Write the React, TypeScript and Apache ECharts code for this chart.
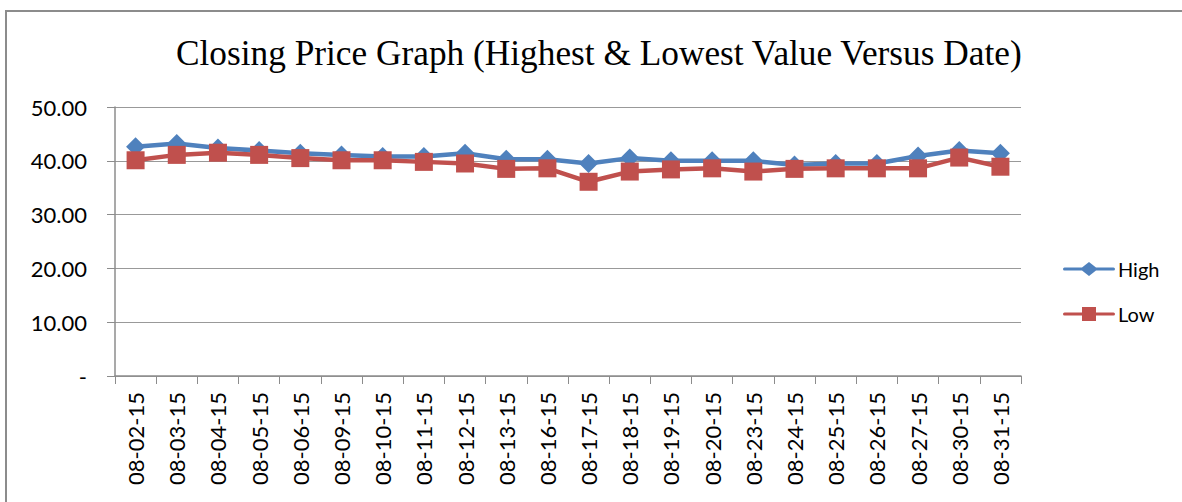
import React, { useEffect, useRef } from "react";
import * as echarts from "echarts";

const categories = [
  "08-02-15", "08-03-15", "08-04-15", "08-05-15", "08-06-15", "08-09-15",
  "08-10-15", "08-11-15", "08-12-15", "08-13-15", "08-16-15", "08-17-15",
  "08-18-15", "08-19-15", "08-20-15", "08-23-15", "08-24-15", "08-25-15",
  "08-26-15", "08-27-15", "08-30-15", "08-31-15",
];
const highValues = [
  42.6, 43.2, 42.4, 41.9, 41.4, 41.1, 40.8, 40.8, 41.4, 40.3, 40.3, 39.5,
  40.5, 40.0, 40.0, 40.0, 39.2, 39.5, 39.5, 40.9, 41.9, 41.4,
];
const lowValues = [
  40.1, 41.1, 41.5, 41.1, 40.5, 40.1, 40.1, 39.8, 39.5, 38.5, 38.6, 36.1,
  38.0, 38.4, 38.6, 38.0, 38.5, 38.6, 38.6, 38.6, 40.6, 38.9,
];
const titleText = "Closing Price Graph (Highest & Lowest Value Versus Date)";

const highIcon =
  "path://M1.5,5.5H19L26,0L33,5.5H50.5A1.5,1.5,0,0,1,50.5,8.5H33L26,14L19,8.5H1.5A1.5,1.5,0,0,1,1.5,5.5Z";
const lowIcon =
  "path://M1.5,5.5H19V0H33V5.5H50.5A1.5,1.5,0,0,1,50.5,8.5H33V14H19V8.5H1.5A1.5,1.5,0,0,1,1.5,5.5Z";

export default function App() {
  const ref = useRef<HTMLDivElement>(null);
  useEffect(() => {
    if (!ref.current) return;
    const chart = echarts.init(ref.current, null, { renderer: "svg" });
    const labelFont = "Lato, 'Open Sans', sans-serif";
    chart.setOption({
      animation: false,
      backgroundColor: "#ffffff",
      graphic: [
        {
          type: "rect",
          shape: { x: 6, y: 11, width: 1300, height: 700 },
          style: { fill: "none", stroke: "#8c8c8c", lineWidth: 2 },
          silent: true,
        },
      ],
      title: {
        text: titleText,
        left: 171,
        top: 31,
        textStyle: {
          fontFamily: "'Liberation Serif', 'Times New Roman', serif",
          fontWeight: "normal",
          fontSize: 35.3,
          color: "#000",
        },
      },
      legend: {
        orient: "vertical",
        left: 1058,
        top: 254,
        itemWidth: 52,
        itemHeight: 14,
        itemGap: 25,
        textStyle: { fontFamily: labelFont, fontSize: 20, color: "#000", padding: [0, 0, 0, -2] },
        data: [
          { name: "High", icon: highIcon },
          { name: "Low", icon: lowIcon },
        ],
      },
      grid: { left: 115, top: 107, width: 906, height: 269, containLabel: false },
      xAxis: {
        type: "category",
        data: categories,
        boundaryGap: true,
        axisLine: { lineStyle: { color: "#8c8c8c", width: 1.5 } },
        axisTick: { show: true, length: 8, alignWithLabel: false, lineStyle: { color: "#8c8c8c" } },
        axisLabel: {
          rotate: 90,
          interval: 0,
          margin: 16,
          fontFamily: labelFont,
          fontSize: 22,
          color: "#000",
        },
      },
      yAxis: {
        type: "value",
        min: 0,
        max: 50,
        interval: 10,
        axisLine: { show: true, lineStyle: { color: "#8c8c8c", width: 1.5 } },
        axisTick: { show: true, length: 8, lineStyle: { color: "#8c8c8c" } },
        splitLine: { lineStyle: { color: "#999999", width: 1 } },
        axisLabel: {
          margin: 28,
          fontFamily: labelFont,
          fontSize: 22,
          color: "#000",
          formatter: (v: number) => (v === 0 ? "-" : v.toFixed(2)),
        },
      },
      series: [
        {
          name: "High",
          type: "line",
          data: highValues,
          symbol: "diamond",
          symbolSize: 19,
          lineStyle: { color: "#4F81BD", width: 4.5 },
          itemStyle: { color: "#4F81BD" },
        },
        {
          name: "Low",
          type: "line",
          data: lowValues,
          symbol: "rect",
          symbolSize: 18,
          lineStyle: { color: "#C0504D", width: 4.5 },
          itemStyle: { color: "#C0504D" },
        },
      ],
    });
    return () => chart.dispose();
  }, []);
  return (
    <div
      ref={ref}
      style={{ position: "absolute", left: 0, top: 0, width: 1182, height: 502 }}
    />
  );
}
